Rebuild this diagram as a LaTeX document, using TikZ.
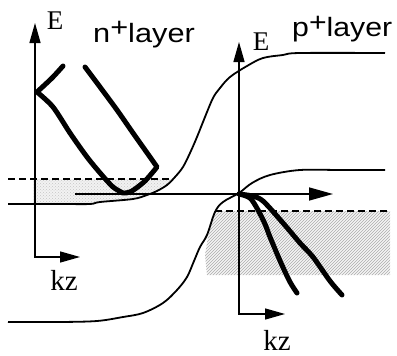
\documentclass[tikz,border=0pt]{standalone}
\usepackage{fontspec}
\setmainfont{Liberation Serif}
\newfontfamily\lsans{Liberation Sans}
\usetikzlibrary{arrows.meta,patterns}
\begin{document}
\begin{tikzpicture}[x=1pt,y=-1pt,
  edge/.style={line width=1.8pt, line join=round},
  band/.style={line width=5pt, line cap=round, line join=round},
  tipA/.tip={Triangle[length=20pt,width=11pt]},
  axis/.style={line width=1.5pt},
  dashline/.style={line width=2pt, dash pattern=on 7pt off 4pt},
  serlbl/.style={inner sep=0pt, anchor=base, font=\fontsize{27}{29}\selectfont},
  kzlbl/.style={inner sep=0pt, anchor=base, font=\fontsize{29}{31}\selectfont},
  laylbl/.style={inner sep=0pt, anchor=base west, font=\lsans\fontsize{26.5}{28}\selectfont},
]
\useasboundingbox (0,0) rectangle (397,356);

% shaded regions
\fill[gray!10] (33,179) -- (172,179) -- (167,185) -- (157,191) -- (147,195) -- (133,199) -- (100,202) -- (90,204) -- (33,204) -- cycle;
\fill[pattern=crosshatch dots, pattern color=gray!45] (33,179) -- (172,179) -- (167,185) -- (157,191) -- (147,195) -- (133,199) -- (100,202) -- (90,204) -- (33,204) -- cycle;
\fill[gray!8] (215,211) -- (390,211) -- (390,275) -- (207,275) -- (205,255) -- (208,237) -- cycle;
\fill[pattern=north east lines, pattern color=gray!65] (215,211) -- (390,211) -- (390,275) -- (207,275) -- (205,255) -- (208,237) -- cycle;

% dashed levels
\coordinate (dl1) at (8,179);
\coordinate (dl2) at (170,179);
\coordinate (dr1) at (215,211);
\coordinate (dr2) at (390,211);
\draw[dashline] (dl1) -- (dl2);
\draw[dashline] (dr1) -- (dr2);

% band edges
\draw[edge] plot[smooth, tension=0.55] coordinates {(385,53) (300,53) (283,55) (263,58) (247,66) (230,77) (220,88) (213,98) (205,117) (197,137) (190,153) (183,167) (175,177) (167,185) (157,191) (147,195) (133,199) (100,202) (90,204) (60,204) (8,204)};
\draw[edge] plot[smooth, tension=0.55] coordinates {(8,322) (60,322) (97,321) (123,317) (143,313) (163,303) (177,290) (187,277) (194,261) (200,247) (207,235) (215,212) (223,202) (239,193) (252,183) (270,175) (300,170) (340,170) (385,170)};

% axes
\coordinate (ltop) at (35,23);
\coordinate (lo) at (35,257);
\coordinate (lright) at (80,257);
\draw[axis, {tipA}-{tipA}] (ltop) -- (lo) -- (lright);
\coordinate (rtop) at (239,42);
\coordinate (ro) at (239,314);
\coordinate (rright) at (285,314);
\draw[axis, {tipA}-{tipA}] (rtop) -- (ro) -- (rright);
\coordinate (kstart) at (75,194);
\coordinate (kend) at (333,194);
\draw[axis, -{Triangle[length=24pt,width=13pt]}] (kstart) -- (kend);

% dispersion curves (n side)
\draw[band] plot[smooth, tension=0.5] coordinates {(63,66) (52,78) (37,92)} -- plot[smooth, tension=0.5] coordinates {(37,92) (53,107) (70,133) (87,157) (101,174) (113,187) (123,193)};
\draw[band] plot[smooth, tension=0.5] coordinates {(85,67) (100,87) (117,110) (133,133) (150,157) (157,167)} -- plot[smooth, tension=0.5] coordinates {(157,167) (145,181) (132,191) (125,193)};

% dispersion curves (p side)
\draw[band] plot[smooth, tension=0.5] coordinates {(239,194) (250,198) (258,210) (265,224) (270,237) (281,263) (290,282) (297,293)};
\draw[band] plot[smooth, tension=0.5] coordinates {(239,194) (252,196) (263,201) (283,223) (300,243) (313,257) (330,281) (342,295)};

% labels
\node[serlbl] (E1) at (55,29) {E};
\node[serlbl] (E2) at (261,50) {E};
\node[laylbl] (nl) at (93,42) {\scalebox{1.16}[1]{n\raisebox{0.2em}{+}layer}};
\node[laylbl] (pl) at (292,37) {\scalebox{1.14}[1]{p\raisebox{0.2em}{+}layer}};
\node[kzlbl] (k1) at (64,290) {kz};
\node[kzlbl] (k2) at (277,350) {kz};
\end{tikzpicture}
\end{document}
